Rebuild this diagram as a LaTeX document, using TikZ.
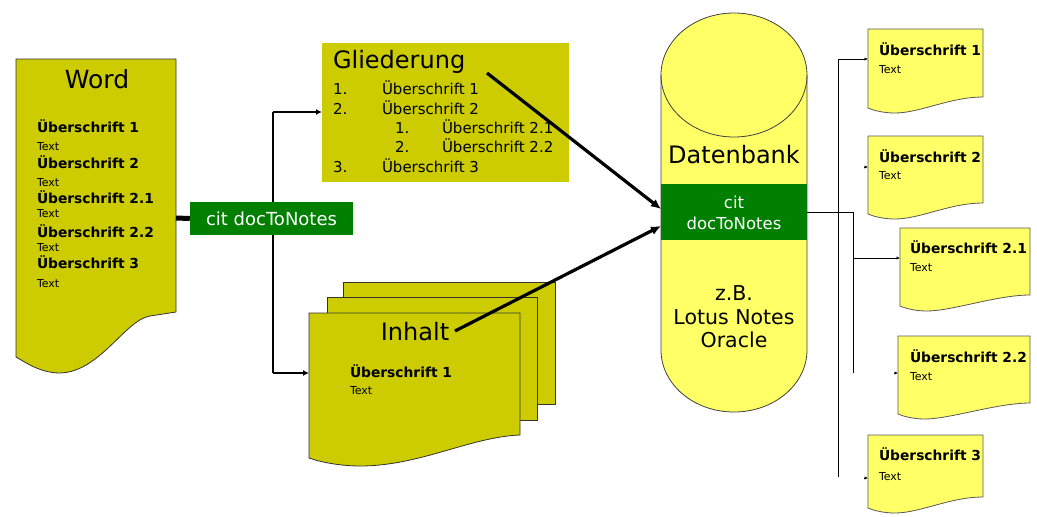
\documentclass[tikz,border=0pt]{standalone}
\usepackage{fontspec}
\setmainfont{DejaVu Sans}
\usetikzlibrary{arrows.meta}
\definecolor{docolive}{HTML}{CCCC00}
\definecolor{dbyellow}{HTML}{FFFF66}
\definecolor{citgreen}{HTML}{007F00}
\begin{document}
\begin{tikzpicture}[x=1pt,y=-1pt,
  txt/.style={inner sep=0pt,outer sep=0pt},
  hd/.style={txt,anchor=base west,font=\fontsize{13.8}{15}\selectfont\bfseries},
  tx/.style={txt,anchor=base west,font=\fontsize{11}{12}\selectfont},
  gl/.style={txt,anchor=base west,font=\fontsize{15}{17}\selectfont},
  big/.style={txt,font=\fontsize{24}{28}\selectfont},
  dbtxt/.style={txt,font=\fontsize{20.5}{24}\selectfont},
  wtxt/.style={txt,text=white,font=\fontsize{16.5}{18}\selectfont},
  oliveshape/.style={fill=docolive,draw=black!80,line width=0.8pt},
  rdocshape/.style={fill=dbyellow,draw=black!65,line width=0.8pt},
  branch/.style={line width=2.6pt,-{Latex[length=6pt,width=6pt]}},
  dbarrow/.style={line width=3.2pt,-{Latex[length=10pt,width=9pt]}},
  thin/.style={line width=1pt},
  thinarrow/.style={line width=1pt,-{Latex[length=3.5pt,width=3.5pt]}}
]
\useasboundingbox (0,0) rectangle (1037,517);

% ---------------- Word document
\path[oliveshape] (16,59) -- (176,59) -- (176,312) -- (150,316)
  .. controls (125,320) and (100,372) .. (60,373)
  .. controls (40,373) and (25,362) .. (16,357) -- cycle;
\node[big,font=\fontsize{25}{28}\selectfont] (word) at (97,79) {Word};
\node[hd] (w1) at (37,132) {Überschrift 1};
\node[tx] (w1t) at (37,150) {Text};
\node[hd] (w2) at (37,168) {Überschrift 2};
\node[tx] (w2t) at (37,186) {Text};
\node[hd] (w21) at (37,203) {Überschrift 2.1};
\node[tx] (w21t) at (37,217) {Text};
\node[hd] (w22) at (37,237) {Überschrift 2.2};
\node[tx] (w22t) at (37,251) {Text};
\node[hd] (w3) at (37,268) {Überschrift 3};
\node[tx] (w3t) at (37,287) {Text};

% ---------------- Gliederung
\node[fill=docolive,minimum width=247pt,minimum height=139pt,anchor=north west,inner sep=0pt] (glbox) at (322,43) {};
\node[txt,anchor=base west,font=\fontsize{24}{28}\selectfont] (gltitle) at (333,68) {Gliederung};
\node[gl] (gn1) at (333,94) {1.};
\node[gl] (gh1) at (382,94) {Überschrift 1};
\node[gl] (gn2) at (333,114) {2.};
\node[gl] (gh2) at (382,114) {Überschrift 2};
\node[gl] (gn21) at (395,133) {1.};
\node[gl] (gh21) at (442,133) {Überschrift 2.1};
\node[gl] (gn22) at (395,152) {2.};
\node[gl] (gh22) at (442,152) {Überschrift 2.2};
\node[gl] (gn3) at (333,172) {3.};
\node[gl] (gh3) at (382,172) {Überschrift 3};

% ---------------- Inhalt stack
\path[oliveshape] (343,282) rectangle (555,404);
\path[oliveshape] (327,297) rectangle (537,420);
\path[oliveshape] (309,313) -- (520,313) -- (520,435)
  .. controls (470,437) and (420,466) .. (360,466)
  .. controls (340,466) and (320,462) .. (309,458) -- cycle;
\node[big] (inhalt) at (415,332) {Inhalt};
\node[hd] (ih1) at (350,377) {Überschrift 1};
\node[tx] (ih1t) at (350,394) {Text};

% ---------------- Database cylinder
\path[fill=dbyellow,draw=black!75,line width=0.8pt]
  (661,75) -- (661,350)
  .. controls (661,384.2) and (693.7,412) .. (734,412)
  .. controls (774.3,412) and (807,384.2) .. (807,350)
  -- (807,75)
  .. controls (807,40.8) and (774.3,13) .. (734,13)
  .. controls (693.7,13) and (661,40.8) .. (661,75) -- cycle;
\draw[black!75,line width=0.8pt] (661,75)
  .. controls (661,109.2) and (693.7,137) .. (734,137)
  .. controls (774.3,137) and (807,109.2) .. (807,75);
\node[fill=citgreen,minimum width=146pt,minimum height=56pt,anchor=north west,inner sep=0pt] (dbband) at (661,184) {};
\node[big] (daten) at (734,155) {Datenbank};
\node[wtxt] (dbcit) at (734,202) {cit};
\node[wtxt] (dbdoc) at (734,223) {docToNotes};
\node[dbtxt] (zb) at (734,293) {z.B.};
\node[dbtxt] (lotus) at (734,317) {Lotus Notes};
\node[dbtxt] (oracle) at (734,340) {Oracle};

% ---------------- Right documents
\newcommand\rdocpath[4]{%
  \path[rdocshape] (#1,#2) -- (#3,#2) -- (#3,#4)
    .. controls +(-33,0) and +(25,0) .. ({#1+27},{#4+16})
    .. controls +(-10,0) and +(7,3) .. (#1,{#4+11}) -- cycle;}
\rdocpath{868}{29}{983}{97}
\rdocpath{868}{136}{983}{203}
\rdocpath{900}{228}{1030}{295}
\rdocpath{898}{336}{1030}{403}
\rdocpath{868}{435}{983}{497}
\node[hd] (r1) at (879,55) {Überschrift 1};
\node[tx] (r1t) at (879,73) {Text};
\node[hd] (r2) at (879,162) {Überschrift 2};
\node[tx] (r2t) at (879,179) {Text};
\node[hd] (r21) at (910,253) {Überschrift 2.1};
\node[tx] (r21t) at (910,271) {Text};
\node[hd] (r22) at (910,362) {Überschrift 2.2};
\node[tx] (r22t) at (910,380) {Text};
\node[hd] (r3) at (879,460) {Überschrift 3};
\node[tx] (r3t) at (879,480) {Text};

% ---------------- Left connectors
\coordinate (busT) at (273,112);
\coordinate (busB) at (273,373);
\coordinate (inW) at (309,373);
\draw[line width=2.6pt] (busT) -- (busB);
\draw[branch] (busT) -- (glbox.west |- busT);
\draw[branch] (busB) -- (inW);
\node[fill=citgreen,text=white,minimum width=163pt,minimum height=33pt,inner sep=0pt,font=\fontsize{18}{20}\selectfont] (cit1) at (271.5,218.5) {cit docToNotes};
\coordinate (wordE) at (176,218);
\draw[line width=5pt] (wordE) -- (cit1.west);

% ---------------- Arrows to database
\coordinate (glEnd) at (487,73);
\coordinate (inEnd) at (455,331);
\coordinate (dbIn1) at (661,209);
\coordinate (dbIn2) at (661,226);
\draw[dbarrow] (glEnd) -- (dbIn1);
\draw[dbarrow] (inEnd) -- (dbIn2);

% ---------------- Right connectors
\coordinate (dbE) at (807,212);
\coordinate (j2) at (853,212);
\coordinate (j2B) at (853,373);
\coordinate (bus2T) at (838,59);
\coordinate (bus2B) at (838,477);
\coordinate (d1W) at (868,59);
\coordinate (d21W) at (900,258);
\coordinate (d2W) at (868,167);
\coordinate (d22W) at (898,373);
\coordinate (d3W) at (868,478);
\draw[thin] (dbE) -- (j2) -- (j2B);
\draw[thin] (bus2B) -- (bus2T);
\draw[thinarrow] (bus2T) -- (d1W);
\draw[thinarrow] (j2 |- d21W) -- (d21W);
\draw[thinarrow] ([xshift=-4pt]d2W) -- (d2W);
\draw[thinarrow] ([xshift=-4pt]d22W) -- (d22W);
\draw[thinarrow] ([xshift=-4pt]d3W) -- (d3W);
\end{tikzpicture}
\end{document}
